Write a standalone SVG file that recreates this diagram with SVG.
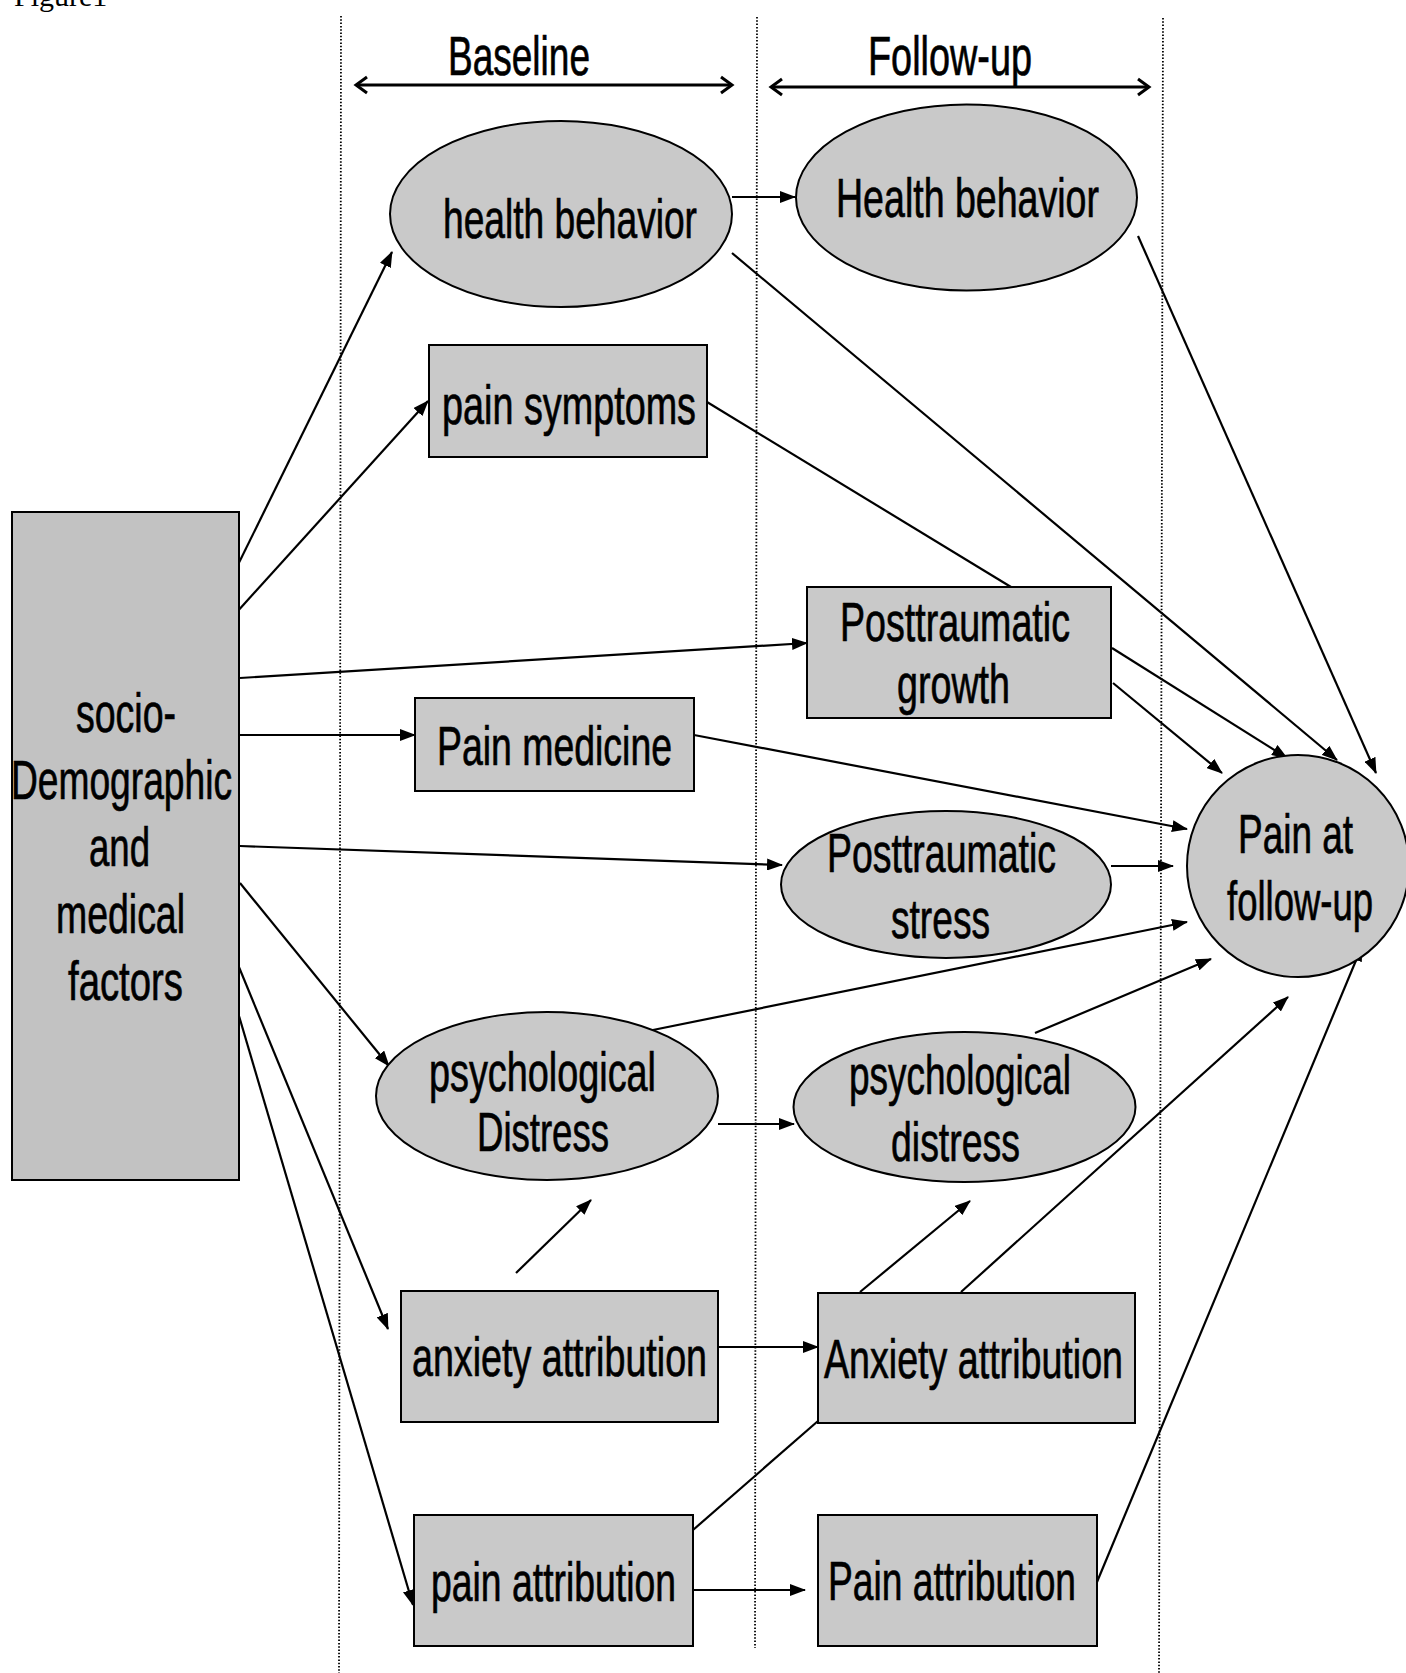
<svg xmlns="http://www.w3.org/2000/svg" width="1406" height="1673" viewBox="0 0 1406 1673">
<style>
.n{fill:#c9c9c9;stroke:#000;stroke-width:2}
.t{font-family:"Liberation Sans",Arial,sans-serif;font-size:55px;fill:#000;stroke:#000;stroke-width:0.7}
.c{stroke:#000;stroke-width:2.2;fill:none}
.a{marker-end:url(#ah)}
.dot{stroke:#000;stroke-width:1.8;stroke-dasharray:1.5 1.8;fill:none}
.h{stroke:#000;stroke-width:3;fill:none;marker-start:url(#hs);marker-end:url(#he)}
</style>
<defs>
<marker id="ah" markerUnits="userSpaceOnUse" markerWidth="16" markerHeight="12" refX="15" refY="6" orient="auto">
<path d="M0,0 L16,6 L0,12 z" fill="#000"/>
</marker>
<marker id="he" markerUnits="userSpaceOnUse" markerWidth="16" markerHeight="20" refX="13" refY="10" orient="auto">
<path d="M2,2 L13,10 L2,18" fill="none" stroke="#000" stroke-width="3"/>
</marker>
<marker id="hs" markerUnits="userSpaceOnUse" markerWidth="16" markerHeight="20" refX="3" refY="10" orient="auto">
<path d="M14,2 L3,10 L14,18" fill="none" stroke="#000" stroke-width="3"/>
</marker>
</defs>
<rect width="1406" height="1673" fill="#fff"/>
<text x="14" y="6" style="font-family:'Liberation Serif','Times New Roman',serif;font-size:30px" fill="#000">Figure1</text>

<g id="guides">
<line class="dot" x1="341" y1="16" x2="339" y2="1673"/>
<line class="dot" x1="757" y1="17" x2="755" y2="1648"/>
<line class="dot" x1="1163" y1="18" x2="1159" y2="1673"/>
</g>

<g id="periods">
<line class="h" x1="356" y1="85" x2="732" y2="85"/>
<text class="t" x="448" y="75" textLength="142" lengthAdjust="spacingAndGlyphs">Baseline</text>
<line class="h" x1="771" y1="87" x2="1149" y2="87"/>
<text class="t" x="868" y="75" textLength="164" lengthAdjust="spacingAndGlyphs">Follow-up</text>
</g>

<g id="connectors">
<line class="c a" x1="227" y1="587" x2="392" y2="252"/>
<line class="c a" x1="227" y1="623" x2="428" y2="401"/>
<line class="c a" x1="240" y1="678" x2="807" y2="643"/>
<line class="c a" x1="240" y1="735" x2="415" y2="735"/>
<line class="c a" x1="240" y1="846" x2="782" y2="865"/>
<line class="c a" x1="240" y1="883" x2="389" y2="1066"/>
<line class="c a" x1="227" y1="938" x2="388" y2="1329"/>
<line class="c a" x1="239" y1="1016" x2="413" y2="1605"/>
<line class="c a" x1="732" y1="197" x2="795" y2="197"/>
<line class="c a" x1="732" y1="253" x2="1337" y2="760"/>
<line class="c a" x1="1138" y1="236" x2="1376" y2="773"/>
<line class="c" x1="707" y1="402" x2="1011" y2="587"/>
<line class="c a" x1="1112" y1="648" x2="1287" y2="758"/>
<line class="c a" x1="1113" y1="683" x2="1222" y2="773"/>
<line class="c a" x1="694" y1="735" x2="1187" y2="829"/>
<line class="c a" x1="1111" y1="866" x2="1173" y2="866"/>
<line class="c a" x1="643" y1="1032" x2="1187" y2="922"/>
<line class="c a" x1="1035" y1="1033" x2="1211" y2="959"/>
<line class="c a" x1="961" y1="1292" x2="1288" y2="997"/>
<line class="c a" x1="1097" y1="1582" x2="1362" y2="946"/>
<line class="c a" x1="718" y1="1124" x2="794" y2="1124"/>
<line class="c a" x1="516" y1="1273" x2="591" y2="1200"/>
<line class="c a" x1="707" y1="1347" x2="818" y2="1347"/>
<line class="c a" x1="860" y1="1292" x2="970" y2="1201"/>
<line class="c" x1="693" y1="1530" x2="818" y2="1421"/>
<line class="c a" x1="693" y1="1590" x2="805" y2="1590"/>
</g>

<g id="socio">
<rect class="n" x="12" y="512" width="227" height="668" style="fill:#c2c2c2"/>
<text class="t" x="76" y="732" textLength="100" lengthAdjust="spacingAndGlyphs">socio-</text>
<text class="t" x="11" y="799" textLength="221" lengthAdjust="spacingAndGlyphs">Demographic</text>
<text class="t" x="89" y="866" textLength="61" lengthAdjust="spacingAndGlyphs">and</text>
<text class="t" x="56" y="933" textLength="129" lengthAdjust="spacingAndGlyphs">medical</text>
<text class="t" x="68" y="1000" textLength="115" lengthAdjust="spacingAndGlyphs">factors</text>
</g>

<g id="health-behavior-baseline">
<ellipse class="n" cx="561" cy="214" rx="171" ry="93"/>
<text class="t" x="443" y="238" textLength="254" lengthAdjust="spacingAndGlyphs">health behavior</text>
</g>

<g id="health-behavior-followup">
<ellipse class="n" cx="966.5" cy="197.5" rx="170.5" ry="93"/>
<text class="t" x="836" y="217" textLength="263" lengthAdjust="spacingAndGlyphs">Health behavior</text>
</g>

<g id="pain-symptoms">
<rect class="n" x="429" y="345" width="278" height="112"/>
<text class="t" x="442" y="424" textLength="254" lengthAdjust="spacingAndGlyphs">pain symptoms</text>
</g>

<g id="posttraumatic-growth">
<rect class="n" x="807" y="587" width="304" height="131"/>
<text class="t" x="840" y="641" textLength="230" lengthAdjust="spacingAndGlyphs">Posttraumatic</text>
<text class="t" x="897" y="703" textLength="113" lengthAdjust="spacingAndGlyphs">growth</text>
</g>

<g id="pain-medicine">
<rect class="n" x="415" y="698" width="279" height="93"/>
<text class="t" x="437" y="765" textLength="235" lengthAdjust="spacingAndGlyphs">Pain medicine</text>
</g>

<g id="posttraumatic-stress">
<ellipse class="n" cx="946" cy="884.5" rx="165" ry="73.5"/>
<text class="t" x="827" y="872" textLength="229" lengthAdjust="spacingAndGlyphs">Posttraumatic</text>
<text class="t" x="891" y="938" textLength="99" lengthAdjust="spacingAndGlyphs">stress</text>
</g>

<g id="pain-followup">
<ellipse class="n" cx="1298" cy="866" rx="111" ry="111"/>
<text class="t" x="1238" y="853" textLength="115" lengthAdjust="spacingAndGlyphs">Pain at</text>
<text class="t" x="1227" y="920" textLength="146" lengthAdjust="spacingAndGlyphs">follow-up</text>
</g>

<g id="psych-distress-baseline">
<ellipse class="n" cx="547" cy="1096" rx="171" ry="84"/>
<text class="t" x="429" y="1091" textLength="227" lengthAdjust="spacingAndGlyphs">psychological</text>
<text class="t" x="477" y="1151" textLength="132" lengthAdjust="spacingAndGlyphs">Distress</text>
</g>

<g id="psych-distress-followup">
<ellipse class="n" cx="964.5" cy="1107" rx="171" ry="75"/>
<text class="t" x="849" y="1094" textLength="222" lengthAdjust="spacingAndGlyphs">psychological</text>
<text class="t" x="891" y="1161" textLength="129" lengthAdjust="spacingAndGlyphs">distress</text>
</g>

<g id="anxiety-attribution-baseline">
<rect class="n" x="401" y="1291" width="317" height="131"/>
<text class="t" x="412" y="1376" textLength="295" lengthAdjust="spacingAndGlyphs">anxiety attribution</text>
</g>

<g id="anxiety-attribution-followup">
<rect class="n" x="818" y="1293" width="317" height="130"/>
<text class="t" x="824" y="1378" textLength="299" lengthAdjust="spacingAndGlyphs">Anxiety attribution</text>
</g>

<g id="pain-attribution-baseline">
<rect class="n" x="414" y="1515" width="279" height="131"/>
<text class="t" x="431" y="1601" textLength="245" lengthAdjust="spacingAndGlyphs">pain attribution</text>
</g>

<g id="pain-attribution-followup">
<rect class="n" x="818" y="1515" width="279" height="131"/>
<text class="t" x="828" y="1600" textLength="248" lengthAdjust="spacingAndGlyphs">Pain attribution</text>
</g>
</svg>
